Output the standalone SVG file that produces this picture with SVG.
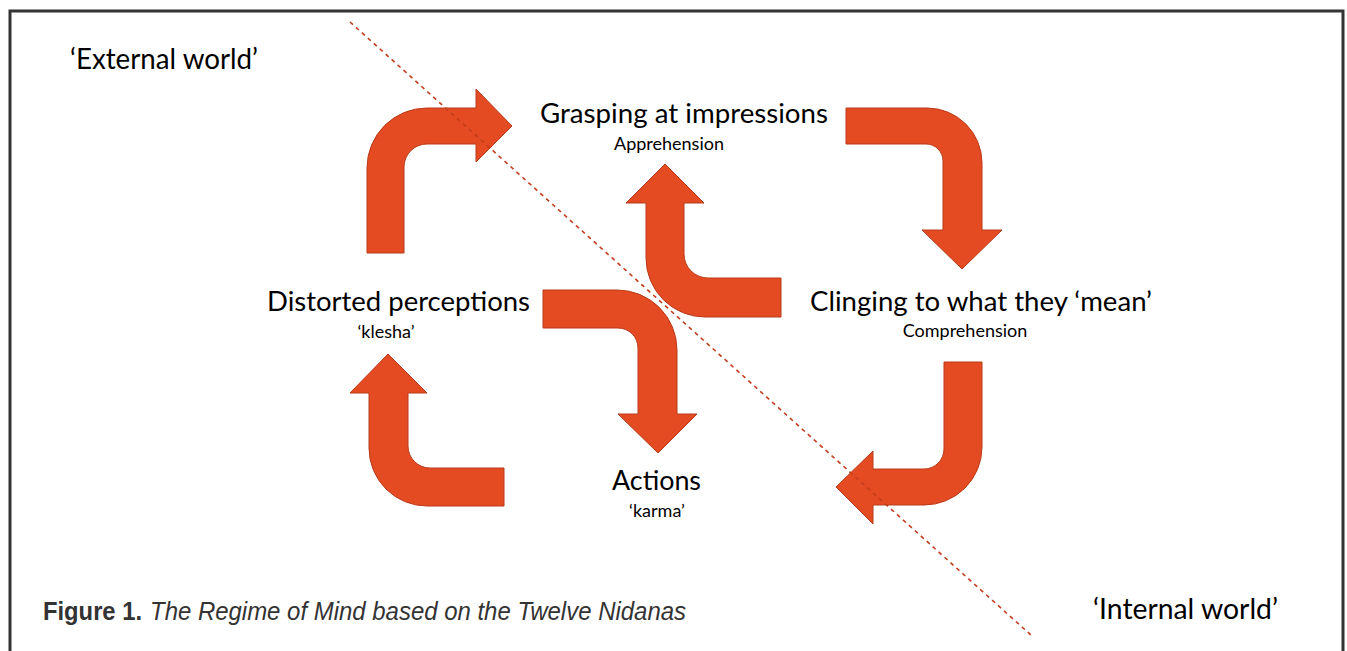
<svg xmlns="http://www.w3.org/2000/svg" width="1347" height="651" viewBox="0 0 1347 651">
<style>
.arr{fill:#E54B22;stroke:#B93A1A;stroke-width:1}
.lbl{font-family:Lato,"Open Sans","Liberation Sans",sans-serif;fill:#000;font-size:26px}
.sub{font-family:Lato,"Open Sans","Liberation Sans",sans-serif;fill:#000;font-size:18px}
.world{font-family:Lato,"Open Sans","Liberation Sans",sans-serif;fill:#000;font-size:28px}
.cap{font-family:"Liberation Sans",Arial,sans-serif;fill:#333;font-size:26px}
</style>
<rect width="1347" height="651" fill="#fff"/>
<path d="M10,651 V11 H1343 V651" fill="none" stroke="#333" stroke-width="3"/>
<g id="connectors">
<path id="arrow-1" class="arr" d="M367,253 V168 A60,60 0 0 1 427,108 H476 V89 L512,126 L476,162 V144 H427 A23,23 0 0 0 404,167 V253 Z"/>
<path id="arrow-2" class="arr" d="M846,108 H927 A55,55 0 0 1 982,163 V230 H1002 L962,269 L922,230 H943 V161 A17,17 0 0 0 926,144 H846 Z"/>
<path id="arrow-3" class="arr" d="M781,278 H708 A24,24 0 0 1 684,254 V203 H704 L665,164 L626,203 H646 V258 A59,59 0 0 0 705,317 H781 Z"/>
<path id="arrow-4" class="arr" d="M543,290 H617 A60,60 0 0 1 677,350 V414 H697 L658,453 L618,414 H638 V348 A20,20 0 0 0 618,328 H543 Z"/>
<path id="arrow-5" class="arr" d="M944,362 H982 V447 A58,58 0 0 1 924,505 H873 V524 L836,487 L873,451 V469 H924 A20,20 0 0 0 944,449 Z"/>
<path id="arrow-6" class="arr" d="M504,468 H430 A22,22 0 0 1 408,446 V393 H427 L388,354 L350,393 H369 V448 A58,58 0 0 0 427,506 H504 Z"/>
</g>
<line x1="350" y1="22" x2="1032" y2="636" stroke="#C23D1C" stroke-width="1.6" stroke-dasharray="4 4"/>
<g id="external"><text class="world" x="70" y="69" textLength="188" lengthAdjust="spacingAndGlyphs">‘External world’</text></g>
<g id="internal"><text class="world" x="1093" y="619" textLength="185" lengthAdjust="spacingAndGlyphs">‘Internal world’</text></g>
<g id="grasping">
<text class="lbl" x="540" y="123" textLength="288" lengthAdjust="spacingAndGlyphs">Grasping at impressions</text>
<text class="sub" x="669" y="150" text-anchor="middle">Apprehension</text>
</g>
<g id="clinging">
<text class="lbl" x="810" y="311" textLength="342" lengthAdjust="spacingAndGlyphs">Clinging to what they ‘mean’</text>
<text class="sub" x="965" y="337" text-anchor="middle">Comprehension</text>
</g>
<g id="distorted">
<text class="lbl" x="267" y="311" textLength="263" lengthAdjust="spacingAndGlyphs">Distorted perceptions</text>
<text class="sub" x="386" y="338" text-anchor="middle">‘klesha’</text>
</g>
<g id="actions">
<text class="lbl" x="612" y="490" textLength="89" lengthAdjust="spacingAndGlyphs">Actions</text>
<text class="sub" x="657" y="517" text-anchor="middle">‘karma’</text>
</g>
<g id="caption">
<text class="cap" x="43" y="620" font-weight="bold" textLength="99" lengthAdjust="spacingAndGlyphs">Figure 1.</text>
<text class="cap" x="150" y="620" font-style="italic" textLength="536" lengthAdjust="spacingAndGlyphs">The Regime of Mind based on the Twelve Nidanas</text>
</g>
</svg>
